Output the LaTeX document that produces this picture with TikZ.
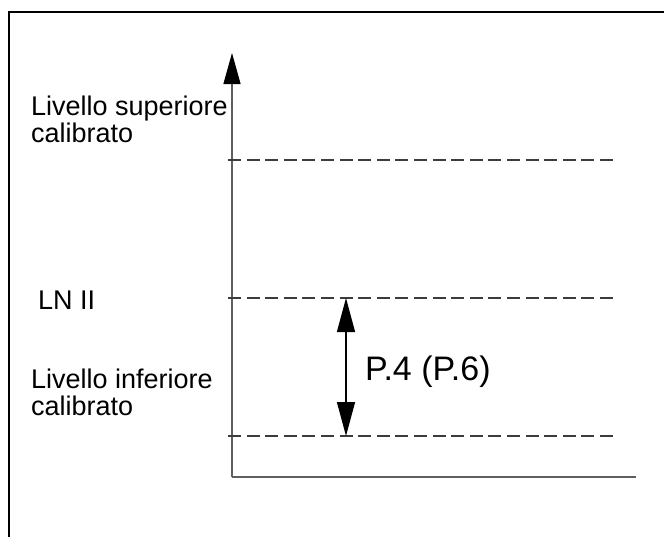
\documentclass[tikz,border=0pt]{standalone}
\usepackage{fontspec}
\setmainfont{Liberation Sans}
\usetikzlibrary{arrows.meta}
\definecolor{axisgray}{RGB}{95,95,95}
\definecolor{dashgray}{RGB}{60,60,60}
\begin{document}
\begin{tikzpicture}[x=1pt,y=-1pt,
  frame/.style={line width=2.8pt,black},
  axisline/.style={line width=1.3pt,axisgray},
  levelline/.style={line width=1.3pt,dashgray,dash pattern=on 13pt off 5.6pt},
  bigtip/.style={-{Triangle[length=31pt,width=17pt,color=black]}},
  dbltip/.style={{Triangle[length=34pt,width=18pt]}-{Triangle[length=34pt,width=18pt]}},
  lbl/.style={inner sep=0pt,anchor=base west,align=left,font=\fontsize{27}{26.5}\selectfont},
  biglbl/.style={inner sep=0pt,anchor=base west,font=\fontsize{34}{36}\selectfont}]
\useasboundingbox (0,0) rectangle (664,536);
% frame
\coordinate (fbl) at (9,540);
\coordinate (ftl) at (9,12);
\coordinate (ftr) at (668,12);
\draw[frame] (fbl) -- (ftl) -- (ftr);
% axes
\coordinate (orig) at (232,477);
\coordinate (ytop) at (232,53);
\coordinate (xend) at (636,477);
\draw[axisline] (xend) -- (orig);
\draw[axisline,bigtip] (orig) -- (ytop);
% level lines
\coordinate (s1) at (228,160);
\coordinate (s2) at (615,160);
\coordinate (n1) at (228,298);
\coordinate (n2) at (615,298);
\coordinate (i1) at (228,436);
\coordinate (i2) at (615,436);
\draw[levelline] (s1) -- (s2);
\draw[levelline] (n1) -- (n2);
\draw[levelline] (i1) -- (i2);
% double arrow
\coordinate (da) at (346,298);
\coordinate (db) at (346,436);
\draw[line width=1.3pt,black,dbltip] (da) -- (db);
% labels
\node[lbl] (sup) at (31,142) {Livello superiore\\calibrato};
\node[lbl] (ln) at (38,309) {LN II};
\node[lbl] (inf) at (31,415) {Livello inferiore\\calibrato};
\node[biglbl] (p4) at (365,380) {P.4 (P.6)};
\end{tikzpicture}
\end{document}
